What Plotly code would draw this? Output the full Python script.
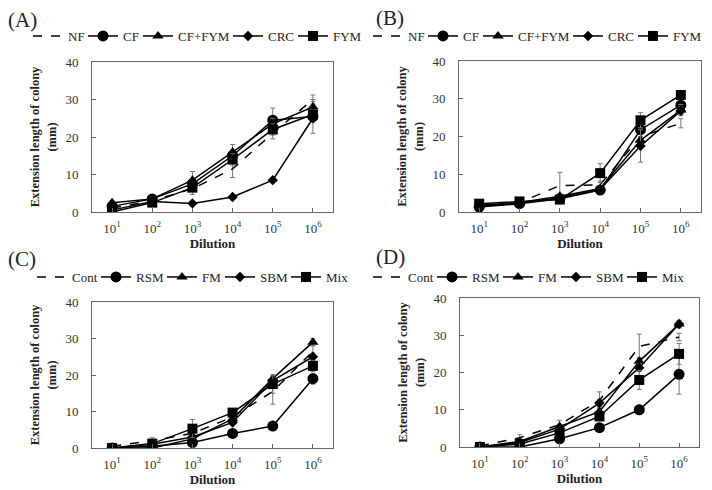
import plotly.graph_objects as go

# colony extension length (mm) vs dilution, four panels
dilution = ['10<sup>1</sup>', '10<sup>2</sup>', '10<sup>3</sup>', '10<sup>4</sup>', '10<sup>5</sup>', '10<sup>6</sup>']

names_ab = ['NF', 'CF', 'CF+FYM', 'CRC', 'FYM']
names_cd = ['Cont', 'RSM', 'FM', 'SBM', 'Mix']

# panel A
a_nf = [1.0, 3.0, 6.2, 11.5, 21.0, 30.0]
a_cf = [1.5, 3.5, 7.5, 15.0, 24.5, 25.5]
a_cffym = [2.5, 3.5, 8.5, 16.0, 23.5, 28.0]
a_crc = [0.5, 2.8, 2.3, 4.0, 8.5, 25.0]
a_fym = [0.0, 2.5, 6.5, 14.0, 22.0, 26.0]
a_nf_err = [0.5, 0.5, 1.5, 2.3, 1.5, 1.2]
a_cf_err = [0.5, 0.5, 1.0, 1.5, 3.2, 4.5]
a_cffym_err = [0.5, 0.5, 2.3, 2.0, 1.5, 1.5]
a_crc_err = [0.3, 0.3, 0.5, 0.5, 0.5, 1.0]
a_fym_err = [0.5, 0.5, 1.0, 1.5, 1.5, 1.0]

# panel B
b_nf = [1.5, 2.5, 7.0, 7.2, 20.0, 23.5]
b_cf = [1.3, 2.2, 3.5, 5.8, 21.8, 28.3]
b_cffym = [1.8, 2.5, 4.2, 6.2, 19.0, 27.0]
b_crc = [1.5, 2.3, 3.8, 6.0, 17.5, 26.8]
b_fym = [2.2, 2.8, 3.3, 10.3, 24.3, 31.0]
b_nf_err = [0.3, 0.3, 3.5, 1.0, 1.5, 1.2]
b_cf_err = [0.3, 0.3, 0.5, 0.5, 1.0, 1.0]
b_cffym_err = [0.3, 0.3, 0.5, 0.5, 1.0, 1.5]
b_crc_err = [0.3, 0.3, 0.5, 0.5, 4.3, 1.0]
b_fym_err = [0.3, 0.3, 0.5, 2.5, 2.0, 1.0]

# panel C
c_cont = [0.5, 2.0, 4.0, 8.5, 15.5, 26.5]
c_rsm = [0.0, 0.5, 1.5, 4.0, 6.0, 19.0]
c_fm = [0.0, 0.0, 2.5, 8.0, 19.0, 29.0]
c_sbm = [0.0, 1.0, 3.0, 7.0, 18.5, 25.0]
c_mix = [0.0, 1.2, 5.3, 9.7, 17.5, 22.5]
c_cont_err = [0.3, 0.8, 1.0, 1.0, 3.5, 1.5]
c_rsm_err = [0.0, 0.3, 0.5, 0.5, 1.0, 1.5]
c_fm_err = [0.0, 0.3, 0.5, 0.5, 1.0, 1.0]
c_sbm_err = [0.0, 0.3, 0.5, 0.5, 1.0, 1.0]
c_mix_err = [0.0, 0.5, 2.5, 1.0, 2.5, 1.5]

# panel D
d_cont = [0.3, 2.5, 6.0, 12.5, 27.0, 29.5]
d_rsm = [0.0, 0.0, 2.2, 5.2, 10.0, 19.5]
d_fm = [0.0, 1.5, 5.5, 9.5, 23.0, 33.0]
d_sbm = [0.0, 1.2, 4.8, 11.8, 21.3, 33.0]
d_mix = [0.0, 0.8, 3.8, 8.2, 18.0, 25.0]
d_cont_err = [0.3, 0.8, 1.2, 2.3, 3.3, 1.0]
d_rsm_err = [0.0, 0.3, 0.5, 0.5, 1.2, 5.3]
d_fm_err = [0.0, 0.5, 0.5, 1.0, 1.0, 1.0]
d_sbm_err = [0.0, 0.5, 0.5, 1.0, 1.0, 1.0]
d_mix_err = [0.0, 0.5, 0.5, 1.0, 2.5, 2.8]

panels = [
    ('(A)', names_ab, [a_nf, a_cf, a_cffym, a_crc, a_fym],
     [a_nf_err, a_cf_err, a_cffym_err, a_crc_err, a_fym_err]),
    ('(B)', names_ab, [b_nf, b_cf, b_cffym, b_crc, b_fym],
     [b_nf_err, b_cf_err, b_cffym_err, b_crc_err, b_fym_err]),
    ('(C)', names_cd, [c_cont, c_rsm, c_fm, c_sbm, c_mix],
     [c_cont_err, c_rsm_err, c_fm_err, c_sbm_err, c_mix_err]),
    ('(D)', names_cd, [d_cont, d_rsm, d_fm, d_sbm, d_mix],
     [d_cont_err, d_rsm_err, d_fm_err, d_sbm_err, d_mix_err]),
]

# plot boxes in pixels (left, right, top, bottom) for a 712x490 page
W, H = 712, 490
boxes = [(92, 333, 62, 212), (459, 701, 61, 212), (92, 333, 302, 448), (460, 699, 298, 447)]
legend_pos = [(28, 36), (368, 36), (32, 277), (368, 277)]
label_pos = [(6, 20), (374, 18), (6, 259), (374, 257)]

symbols = [None, 'circle', 'triangle-up', 'diamond', 'square']
sizes = [0, 11, 10, 8, 10]
# legend entry widths, a bit under the text width so entries sit close together
# (last entry keeps its full width so its text is not clipped)
entry_w = {'NF': 10, 'CF': 10, 'CF+FYM': 45, 'CRC': 20, 'FYM': 30,
           'Cont': 19, 'RSM': 21, 'FM': 13, 'SBM': 21, 'Mix': 24}

font = 'Times New Roman, Liberation Serif, serif'
fig = go.Figure()

for i, (label, names, series, errs) in enumerate(panels):
    n = '' if i == 0 else str(i + 1)
    leg = 'legend' + n
    for j in range(5):
        if j == 0:
            mode = 'lines'
            marker = None
            line = dict(color='black', width=1.5, dash='dash')
        else:
            mode = 'lines+markers'
            marker = dict(symbol=symbols[j], size=sizes[j], color='black')
            line = dict(color='black', width=1.5)
        fig.add_trace(go.Scatter(
            x=dilution, y=series[j], name=names[j], mode=mode, marker=marker, line=line,
            error_y=dict(type='data', array=errs[j], color='#777', thickness=1, width=2.5),
            xaxis='x' + n, yaxis='y' + n, legend=leg, legendwidth=entry_w[names[j]]))

    l, r, t, b = boxes[i]
    xdom = [l / W, r / W]
    ydom = [1 - b / H, 1 - t / H]
    fig.update_layout({
        'xaxis' + n: dict(domain=xdom, anchor='y' + n, type='category', range=[-0.5, 5.5],
                          showline=True, linecolor='#666', linewidth=1, mirror=True,
                          ticks='inside', ticklen=4, tickcolor='#666', showgrid=False,
                          automargin=False, ticklabelstandoff=4,
                          tickfont=dict(family=font, size=13, color='#333'),
                          title=dict(text='<b>Dilution</b>', standoff=1,
                                     font=dict(family=font, size=13, color='#222'))),
        'yaxis' + n: dict(domain=ydom, anchor='x' + n, range=[0, 40], dtick=10,
                          showline=True, linecolor='#666', linewidth=1, mirror=True,
                          ticks='inside', ticklen=4, tickcolor='#666', showgrid=False,
                          zeroline=False, automargin=False, ticklabelstandoff=10,
                          tickfont=dict(family=font, size=13, color='#333'),
                          title=dict(text='<b>Extension length of colony<br>(mm)</b>', standoff=6,
                                     font=dict(family=font, size=12.5, color='#222'))),
        leg: dict(orientation='h', x=legend_pos[i][0] / W, y=1 - legend_pos[i][1] / H,
                  xanchor='left', yanchor='middle', itemwidth=30, traceorder='normal',
                  font=dict(family=font, size=13, color='#222'), bgcolor='rgba(0,0,0,0)'),
    })
    fig.add_annotation(text=label, x=label_pos[i][0] / W, y=1 - label_pos[i][1] / H,
                       xref='paper', yref='paper', xanchor='left', yanchor='middle',
                       showarrow=False, font=dict(family=font, size=21, color='#222'))

fig.update_layout(width=W, height=H, margin=dict(l=0, r=0, t=0, b=0),
                  plot_bgcolor='white', paper_bgcolor='white')

# page body has a default 8px margin; drop it so the figure sits at the window corner
fig.write_html("out.html", config={'displayModeBar': False},
               post_script="document.body.style.margin = '0';")
